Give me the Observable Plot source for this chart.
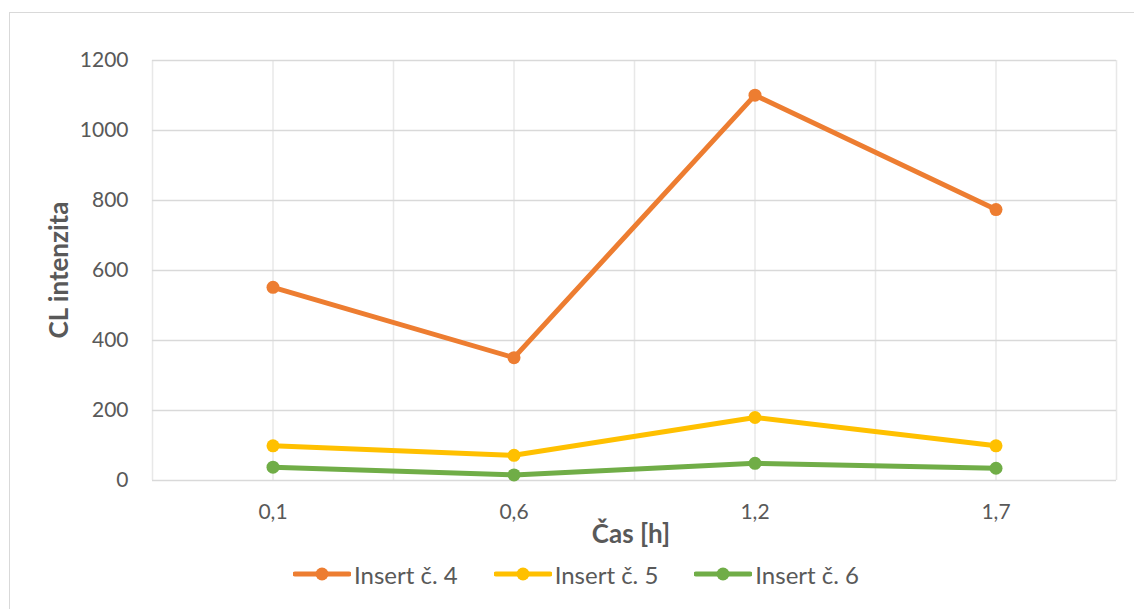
<!DOCTYPE html>
<html>
<head>
<meta charset="utf-8">
<script src="https://cdn.jsdelivr.net/npm/d3@7"></script>
<script src="https://cdn.jsdelivr.net/npm/@observablehq/plot@0.6"></script>
<style>
  html, body { margin: 0; padding: 0; background: #fff; }
  body { width: 1134px; height: 609px; position: relative; overflow: hidden; font-family: Lato, "Open Sans", sans-serif; }
  #frame { position: absolute; left: 9px; top: 12px; width: 1140px; height: 610px; border: 1.5px solid #d9d9d9; box-sizing: border-box; }
  #chart { position: absolute; left: 0; top: 0; }
  #ylabel { position: absolute; left: 58px; top: 270px; transform: translate(-50%, -50%) rotate(-90deg); font-size: 26px; font-weight: bold; color: #595959; white-space: nowrap; }
  #xlabel { position: absolute; left: 631px; top: 533px; transform: translate(-50%, -50%); font-size: 26px; font-weight: bold; color: #595959; white-space: nowrap; }
  #legend { position: absolute; left: 9px; width: 1134px; top: 559px; height: 30px; display: flex; justify-content: center; align-items: center; }
  .item { display: flex; align-items: center; font-size: 24px; color: #595959; margin: 0 18px; }
  .item svg { margin-right: 3px; }
</style>
</head>
<body>
<div id="frame"></div>
<div id="chart"></div>
<div id="ylabel">CL intenzita</div>
<div id="xlabel">Čas [h]</div>
<div id="legend"></div>
<script>
const categories = ["0,1", "0,6", "1,2", "1,7"];
const seriesNames = ["Insert č. 4", "Insert č. 5", "Insert č. 6"];
const insert4 = [552, 351, 1101, 774];
const insert5 = [99, 72, 180, 99];
const insert6 = [38, 16, 49, 35];
const yTicks = [0, 200, 400, 600, 800, 1000, 1200];
const colors = ["#ED7D31", "#FFC000", "#70AD47"];

const seriesValues = [insert4, insert5, insert6];
const data = seriesNames.flatMap((name, s) =>
  seriesValues[s].map((v, i) => ({series: name, xi: i, value: v}))
);
const xGrid = categories.flatMap((c, i) => [i - 0.5, i]).concat([categories.length - 0.5]);

const chart = Plot.plot({
  width: 1134,
  height: 550,
  marginLeft: 152,
  marginRight: 18,
  marginTop: 60,
  marginBottom: 70,
  style: {fontFamily: "Lato, 'Open Sans', sans-serif", fontSize: "21px", color: "#595959", background: "transparent"},
  x: {domain: [-0.5, categories.length - 0.5]},
  y: {domain: [0, 1200]},
  color: {domain: seriesNames, range: colors},
  marks: [
    Plot.ruleX(xGrid, {x: d => d, stroke: "#e8e8e8", strokeWidth: 1.5, strokeOpacity: 1}),
    Plot.ruleY(yTicks, {y: d => d, stroke: "#d9d9d9", strokeWidth: 1.5, strokeOpacity: 1}),
    Plot.axisY({ticks: yTicks, tickFormat: d => String(d), tickSize: 0, tickPadding: 24, label: null, fontSize: 21, fill: "#595959"}),
    Plot.axisX({ticks: categories.map((c, i) => i), tickFormat: i => categories[i], tickSize: 0, tickPadding: 24, label: null, fontSize: 21, fill: "#595959"}),
    Plot.line(data, {x: "xi", y: "value", z: "series", stroke: "series", strokeWidth: 5, strokeLinecap: "round", strokeLinejoin: "round"}),
    Plot.dot(data, {x: "xi", y: "value", fill: "series", r: 6.5, stroke: "none"})
  ]
});
document.getElementById("chart").appendChild(chart);

const legend = document.getElementById("legend");
seriesNames.forEach((name, s) => {
  const item = document.createElement("div");
  item.className = "item";
  item.innerHTML = `<svg width="58" height="20"><line x1="2" y1="10" x2="56" y2="10" stroke="${colors[s]}" stroke-width="5" stroke-linecap="round"/><circle cx="29" cy="10" r="6.5" fill="${colors[s]}"/></svg><span>${name}</span>`;
  legend.appendChild(item);
});
</script>
</body>
</html>
